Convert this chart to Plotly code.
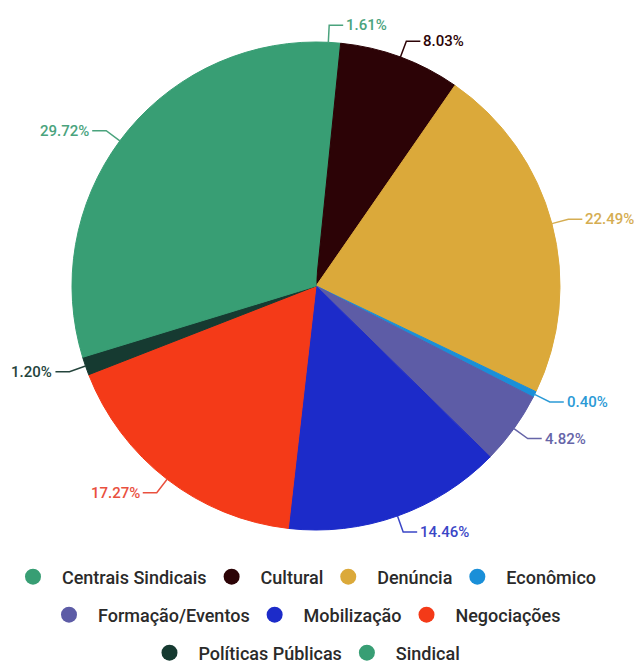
import math
import plotly.graph_objects as go

# Share of occurrences by category (percent)
categories = [
    "Centrais Sindicais", "Cultural", "Denúncia", "Econômico",
    "Formação/Eventos", "Mobilização", "Negociações",
    "Políticas Públicas", "Sindical",
]
shares = [1.61, 8.03, 22.49, 0.40, 4.82, 14.46, 17.27, 1.20, 29.72]
colors = [
    "#389e74", "#2c0306", "#dba93a", "#1a8fd8",
    "#5d5ca6", "#1c2bc9", "#f43a18",
    "#163a31", "#389e74",
]
label_colors = [
    "#4aa37d", "#2c0306", "#d5ad52", "#2b9ad6",
    "#6665a8", "#3a46c6", "#e9503e",
    "#24443c", "#4aa37d",
]
legend_rows = [
    ["Centrais Sindicais", "Cultural", "Denúncia", "Econômico"],
    ["Formação/Eventos", "Mobilização", "Negociações"],
    ["Políticas Públicas", "Sindical"],
]

W, H = 634, 664
cx, cy, R = 316, 286, 244  # pie centre and radius in pixels


def px(x):
    return x / W


def py(y):
    return 1 - y / H


fig = go.Figure()
fig.add_trace(go.Pie(
    labels=categories,
    values=shares,
    # outline each slice in its own colour so same-coloured neighbours merge
    marker=dict(colors=colors, line=dict(width=1, color=colors)),
    sort=False,
    direction="clockwise",
    rotation=0,
    textinfo="none",
    hoverinfo="label+percent",
    showlegend=False,
    domain=dict(x=[px(cx - R), px(cx + R)],
                y=[py(cy + R), py(cy - R)]),
))

# Outside labels with elbow leader lines
shapes = []
annotations = []
total = sum(shares)
cum = 0.0
for name, v, lc in zip(categories, shares, label_colors):
    mid = (cum + v / 2) / total * 2 * math.pi
    cum += v
    sx, sy = math.sin(mid), -math.cos(mid)
    x0, y0 = cx + R * sx, cy + R * sy
    ext = 17
    x1, y1 = cx + (R + ext) * sx, cy + (R + ext) * sy
    right = sx >= 0
    x2 = x1 + (14 if right else -14)
    shapes.append(dict(
        type="path", xref="paper", yref="paper",
        path=f"M {px(x0)} {py(y0)} L {px(x1)} {py(y1)} L {px(x2)} {py(y1)}",
        line=dict(color=lc, width=1.5),
    ))
    annotations.append(dict(
        x=px(x2 + (1 if right else -1)), y=py(y1), xref="paper", yref="paper",
        text=f"{v:.2f}%", showarrow=False,
        xanchor="left" if right else "right", yanchor="middle",
        font=dict(family="Roboto", size=15, color=lc, weight=500),
    ))

# Legend entries, one centred legend per row
legend_y = [577, 615, 653]
color_of = dict(zip(categories, colors))
layout_legends = {}
for i, row in enumerate(legend_rows):
    key = "legend" if i == 0 else f"legend{i + 1}"
    for name in row:
        fig.add_trace(go.Scatter(
            x=[None], y=[None], mode="markers", name="\u00a0\u00a0" + name,
            marker=dict(color=color_of[name], size=18, symbol="circle"),
            legend=key, hoverinfo="skip",
        ))
    layout_legends[key] = dict(
        orientation="h", xref="container", yref="container",
        x=0.485, xanchor="center",
        y=py(legend_y[i]), yanchor="middle",
        font=dict(family="Roboto", size=18, color="#2a2a2a", weight=500),
        bgcolor="rgba(0,0,0,0)", itemclick=False, itemdoubleclick=False,
    )

fig.update_layout(
    width=W, height=H,
    margin=dict(l=0, r=0, t=0, b=0, autoexpand=False),
    paper_bgcolor="white", plot_bgcolor="white",
    xaxis=dict(visible=False), yaxis=dict(visible=False),
    shapes=shapes, annotations=annotations,
    **layout_legends,
)

fig.write_html("out.html")
